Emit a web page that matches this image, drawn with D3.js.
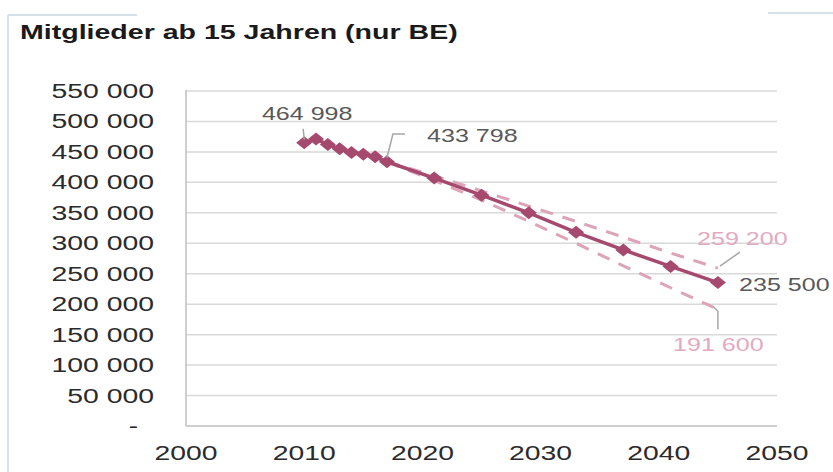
<!DOCTYPE html>
<html><head><meta charset="utf-8">
<script src="https://cdn.jsdelivr.net/npm/d3@7"></script>
<style>
html,body{margin:0;padding:0;background:#fff;}
svg{display:block;font-family:"Liberation Sans",Arial,sans-serif;}
</style></head>
<body>
<svg id="chart" width="833" height="472"></svg>
<script>
// ---- data ----
const title = "Mitglieder ab 15 Jahren (nur BE)";
const years = [2010, 2011, 2012, 2013, 2014, 2015, 2016, 2017, 2021, 2025, 2029, 2033, 2037, 2041, 2045];
const members = [464998, 471000, 462000, 455000, 449000, 446000, 442000, 433798, 407000, 379000, 350000, 318000, 289000, 262000, 235500];
const projYears = [2017, 2021, 2025, 2029, 2033, 2037, 2041, 2045];
const upperScenario = [433798, 411000, 386000, 361000, 336000, 310000, 284000, 259200];
const lowerScenario = [433798, 403000, 371000, 336000, 300000, 263000, 227000, 191600];
const yTicks = [0, 50000, 100000, 150000, 200000, 250000, 300000, 350000, 400000, 450000, 500000, 550000];
const xTicks = [2000, 2010, 2020, 2030, 2040, 2050];

// ---- setup ----
const svg = d3.select("#chart");
const loc = d3.formatLocale({decimal: ",", thousands: " ", grouping: [3], currency: ["", ""]});
const fmt = loc.format(",d");
const x = d3.scaleLinear().domain([2000, 2050]).range([186, 777]);
const y = d3.scaleLinear().domain([0, 550000]).range([426, 91]);

function stext(g, px, py, str, opts) {
  return g.append("text")
    .attr("transform", `translate(${px},${py}) scale(${opts.sx || 1.35},1)`)
    .attr("text-anchor", opts.anchor || "start")
    .attr("font-size", opts.size || 19)
    .attr("font-weight", opts.weight || "normal")
    .attr("fill", opts.fill || "#595959")
    .text(str);
}

// frame
const frameC = "#cbd7e0";
svg.append("line").attr("x1", 8).attr("x2", 8).attr("y1", 15).attr("y2", 472).attr("stroke", frameC).attr("stroke-width", 1.5);
svg.append("line").attr("x1", 8).attr("x2", 137).attr("y1", 15).attr("y2", 15).attr("stroke", frameC).attr("stroke-width", 1.5);
svg.append("line").attr("x1", 768).attr("x2", 833).attr("y1", 13).attr("y2", 13).attr("stroke", frameC).attr("stroke-width", 1.5);

// title
stext(svg, 20, 39, title, {size: 21, weight: "bold", fill: "#1a1a1a", sx: 1.36});

// grid
const grid = svg.append("g");
grid.selectAll("line").data(yTicks.filter(d => d > 0)).join("line")
  .attr("x1", x(2000)).attr("x2", x(2050))
  .attr("y1", d => y(d)).attr("y2", d => y(d))
  .attr("stroke", "#d9d9d9").attr("stroke-width", 1.5);

// axes lines
svg.append("line").attr("x1", x(2000)).attr("x2", x(2000)).attr("y1", y(550000) - 1).attr("y2", y(0))
  .attr("stroke", "#bfbfbf").attr("stroke-width", 1.5);
svg.append("line").attr("x1", x(2000)).attr("x2", x(2050)).attr("y1", y(0)).attr("y2", y(0))
  .attr("stroke", "#bfbfbf").attr("stroke-width", 1.5);

// y labels
const yl = svg.append("g");
yTicks.forEach(v => {
  if (v === 0) stext(yl, 138, y(v) + 7, "-", {anchor: "end", size: 20, sx: 1.4, fill: "#2b2b2b"});
  else stext(yl, 154, y(v) + 7, fmt(v), {anchor: "end", size: 20, sx: 1.42, fill: "#2b2b2b"});
});
// x labels
const xl = svg.append("g");
xTicks.forEach(v => stext(xl, x(v), 460, String(v), {anchor: "middle", size: 21, sx: 1.35, fill: "#2b2b2b"}));

// scenario dashed lines
const line = d3.line().x(d => x(d[0])).y(d => y(d[1]));
const dashC = "#dca3b9";
svg.append("path").datum(projYears.map((yr, i) => [yr, upperScenario[i]]))
  .attr("d", line).attr("fill", "none").attr("stroke", dashC).attr("stroke-width", 3).attr("stroke-dasharray", "13,10");
svg.append("path").datum(projYears.map((yr, i) => [yr, lowerScenario[i]]))
  .attr("d", line).attr("fill", "none").attr("stroke", dashC).attr("stroke-width", 3).attr("stroke-dasharray", "13,10");

// main line
const mainC = "#a54a6e";
const pts = years.map((yr, i) => [yr, members[i]]);
svg.append("path").datum(pts).attr("d", line).attr("fill", "none").attr("stroke", mainC).attr("stroke-width", 3.5);
svg.append("g").selectAll("path").data(pts).join("path")
  .attr("transform", d => `translate(${x(d[0])},${y(d[1])})`)
  .attr("d", "M0,-6.5 L8,0 L0,6.5 L-8,0 Z").attr("fill", mainC);

// annotations
const lead = "#a6a6a6";
const ann = svg.append("g");
const first = pts[0], p2017 = pts[7], last = pts[pts.length - 1];
const upEnd = [projYears[projYears.length - 1], upperScenario[upperScenario.length - 1]];
const loEnd = [projYears[projYears.length - 1], lowerScenario[lowerScenario.length - 1]];

stext(ann, x(first[0]) + 3, 120, fmt(first[1]), {anchor: "middle", size: 19, sx: 1.32});
ann.append("path").attr("d", `M${x(first[0]) - 1},${y(first[1]) - 14} L${x(first[0])},${y(first[1]) - 3}`)
  .attr("stroke", lead).attr("stroke-width", 1.5).attr("fill", "none");

stext(ann, 427, 142, fmt(p2017[1]), {anchor: "start", size: 19, sx: 1.32});
ann.append("path").attr("d", `M${x(p2017[0]) + 18},134 L${x(p2017[0]) + 6},134 L${x(p2017[0])},${y(p2017[1]) - 4}`)
  .attr("stroke", lead).attr("stroke-width", 1.5).attr("fill", "none");

stext(ann, 697, 245, fmt(upEnd[1]), {anchor: "start", size: 19, sx: 1.32, fill: "#e2aac0"});
ann.append("path").attr("d", `M${x(upEnd[0]) + 2},${y(upEnd[1]) - 2} L${x(upEnd[0]) + 22},${y(upEnd[1]) - 16}`)
  .attr("stroke", lead).attr("stroke-width", 1.5).attr("fill", "none");

stext(ann, 739, 291, fmt(last[1]), {anchor: "start", size: 19, sx: 1.32});

stext(ann, 673, 351, fmt(loEnd[1]), {anchor: "start", size: 19, sx: 1.32, fill: "#e2aac0"});
ann.append("path").attr("d", `M${x(loEnd[0]) - 4},${y(loEnd[1]) - 2} L${x(loEnd[0])},${y(loEnd[1]) + 2} L${x(loEnd[0])},${y(loEnd[1]) + 20}`)
  .attr("stroke", lead).attr("stroke-width", 1.5).attr("fill", "none");
</script>
</body></html>
